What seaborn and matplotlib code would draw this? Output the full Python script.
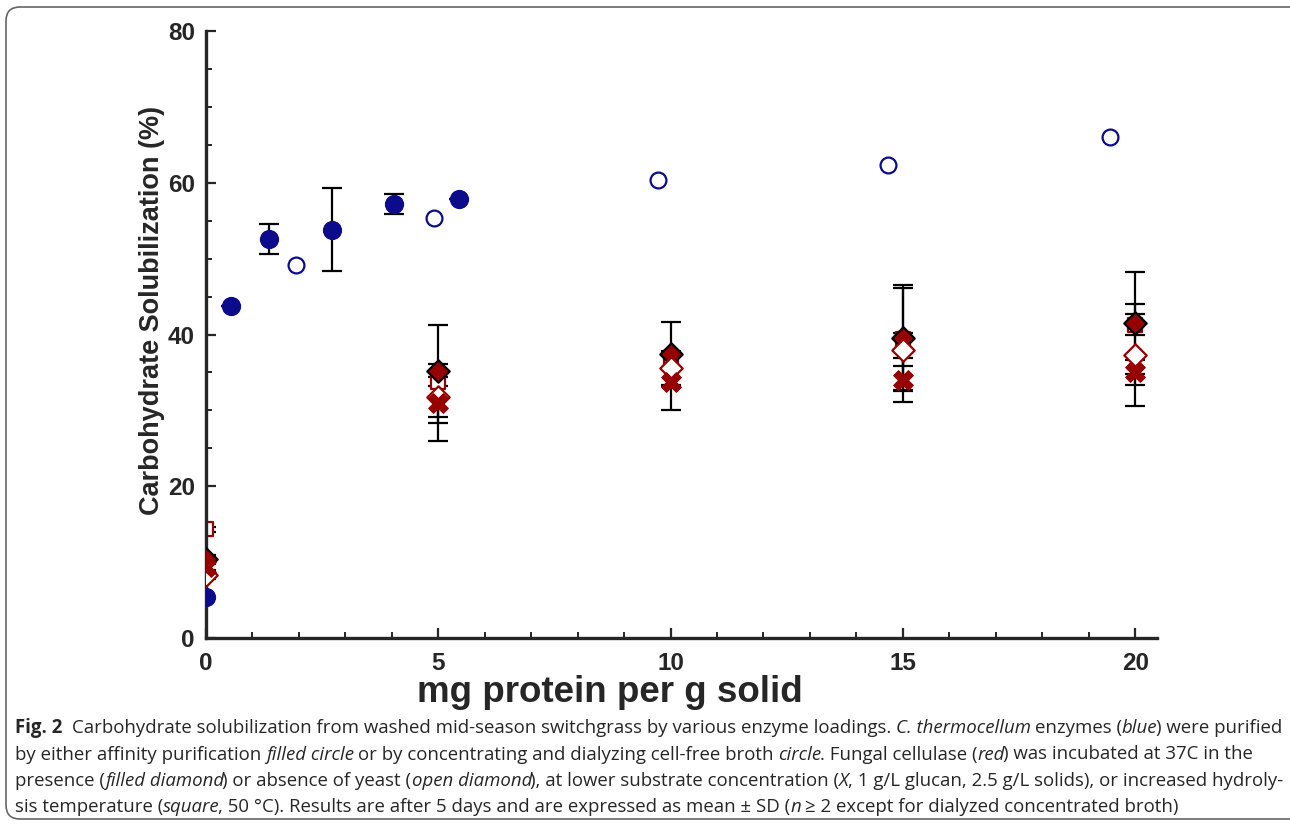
import matplotlib
matplotlib.use("Agg")
import matplotlib.pyplot as plt
import matplotlib.font_manager as fm
from matplotlib.patches import FancyBboxPatch
from matplotlib.ticker import MultipleLocator
import seaborn as sns

# ---------------- data ----------------
# C. thermocellum enzymes, affinity purified (filled circle)
aff_x = [0.0, 0.54, 1.36, 2.71, 4.04, 5.44]
aff_y = [5.4, 43.7, 52.6, 53.8, 57.2, 57.9]
aff_sd = [0.0, 0.0, 2.0, 5.45, 1.3, 0.0]
# C. thermocellum, concentrated dialyzed broth (open circle)
dia_x = [1.94, 4.91, 9.72, 14.68, 19.46]
dia_y = [49.1, 55.4, 60.4, 62.4, 66.0]
# Fungal cellulase loadings
loads = [0, 5, 10, 15, 20]
yeast_y = [10.4, 35.2, 37.4, 39.5, 41.5]      # filled diamond
yeast_sd = [0.6, 6.1, 4.2, 7.0, 6.7]
noyeast_y = [8.3, 31.8, 35.6, 38.0, 37.3]     # open diamond
noyeast_sd = [0.5, 3.4, 2.2, 2.2, 6.7]
lowsub_y = [9.4, 31.0, 33.8, 34.0, 35.0]      # X
lowsub_sd = [0.5, 5.1, 3.7, 2.9, 1.6]
hightemp_y = [14.3, 33.8, 36.5, 39.4, 41.3]   # open square
hightemp_sd = [0.3, 0.6, 0.8, 6.7, 1.4]

x_ticks = [0, 5, 10, 15, 20]
y_ticks = [0, 20, 40, 60, 80]
x_label = "mg protein per g solid"
y_label = "Carbohydrate Solubilization (%)"

BLUE = "#0b0b8c"
RED = "#960000"

# ---------------- style ----------------
sns.set_style("ticks")
names = {f.name for f in fm.fontManager.ttflist}
main_font = "Liberation Sans" if "Liberation Sans" in names else "DejaVu Sans"
cap_font = "Liberation Sans Narrow" if "Liberation Sans Narrow" in names else (
    "Open Sans" if "Open Sans" in names else "DejaVu Sans")
plt.rcParams["font.family"] = [main_font, "DejaVu Sans"]

W, H = 1290, 827
fig = plt.figure(figsize=(W / 100, H / 100), dpi=100)
ax = fig.add_axes([206 / W, 1 - 638 / H, (1157 - 206) / W, (638 - 31) / H])

# error bars
eb = dict(fmt="none", ecolor="black", elinewidth=1.6, capsize=7,
          capthick=1.6, zorder=1.5)
ax.errorbar(aff_x, aff_y, yerr=aff_sd, **eb)
ax.errorbar(loads, yeast_y, yerr=yeast_sd, **eb)
ax.errorbar(loads, noyeast_y, yerr=noyeast_sd, **eb)
ax.errorbar(loads, lowsub_y, yerr=lowsub_sd, **eb)
ax.errorbar(loads, hightemp_y, yerr=hightemp_sd, **eb)

# markers
sns.scatterplot(x=aff_x, y=aff_y, marker="o", s=165, color=BLUE,
                edgecolor=BLUE, linewidth=1, ax=ax, zorder=3)
sns.scatterplot(x=dia_x, y=dia_y, marker="o", s=130, color="white",
                edgecolor=BLUE, linewidth=1.6, ax=ax, zorder=3)
sns.scatterplot(x=loads, y=hightemp_y, marker="s", s=90, color="white",
                edgecolor=RED, linewidth=1.6, ax=ax, zorder=2)
sns.scatterplot(x=loads, y=yeast_y, marker="D", s=130, color=RED,
                edgecolor="black", linewidth=1.6, ax=ax, zorder=3)
sns.scatterplot(x=loads, y=noyeast_y, marker="D", s=130, color="white",
                edgecolor=RED, linewidth=1.6, ax=ax, zorder=4)
sns.scatterplot(x=loads, y=lowsub_y, marker="X", s=200, color=RED,
                edgecolor=RED, linewidth=0.8, ax=ax, zorder=5)

# axes
ax.set_xlim(0, 20.47)
ax.set_ylim(0, 80)
ax.set_xticks(x_ticks)
ax.set_yticks(y_ticks)
ax.xaxis.set_minor_locator(MultipleLocator(1))
ax.yaxis.set_minor_locator(MultipleLocator(5))
sns.despine(ax=ax)
for sp in ("left", "bottom"):
    ax.spines[sp].set_linewidth(2.4)
ax.tick_params(which="major", direction="in", length=7, width=1.6,
               labelsize=17.5, pad=8)
ax.tick_params(which="minor", direction="in", length=4, width=1.4)
ax.tick_params(axis="x", which="major", pad=10)
for lab in ax.get_xticklabels() + ax.get_yticklabels():
    lab.set_fontweight("bold")
ax.set_xlabel("")
ax.set_ylabel("")

fig.text(610 / W, 1 - 692 / H, x_label, ha="center", va="center",
         fontsize=26.5, fontweight="bold")
fig.text(152 / W, 1 - 310 / H, y_label, ha="center", va="center",
         rotation=90, fontsize=19.5, fontweight="bold")

# rounded frame
frame = FancyBboxPatch((6, 8), 1300, H - 8 - 7,
                       boxstyle="round,pad=0,rounding_size=14",
                       transform=None, fill=False, edgecolor="#666666",
                       linewidth=1.2, figure=fig)
fig.patches.append(frame)

# caption (rich text laid out segment by segment)
cap_lines = [
    [("Fig. 2", "b"), ("  Carbohydrate solubilization from washed mid-season switchgrass by various enzyme loadings. ", "n"),
     ("C. thermocellum", "i"), (" enzymes (", "n"), ("blue", "i"), (") were purified", "n")],
    [("by either affinity purification ", "n"), ("filled circle", "i"),
     (" or by concentrating and dialyzing cell-free broth ", "n"), ("circle", "i"),
     (". Fungal cellulase (", "n"), ("red", "i"), (") was incubated at 37C in the", "n")],
    [("presence (", "n"), ("filled diamond", "i"), (") or absence of yeast (", "n"),
     ("open diamond", "i"), ("), at lower substrate concentration (", "n"), ("X", "i"),
     (", 1 g/L glucan, 2.5 g/L solids), or increased hydroly-", "n")],
    [("sis temperature (", "n"), ("square", "i"),
     (", 50 °C). Results are after 5 days and are expressed as mean ± SD (", "n"),
     ("n", "i"), (" ≥ 2 except for dialyzed concentrated broth)", "n")],
]
cap_size = 13.4
styles = {
    "n": dict(family=[cap_font, "DejaVu Sans"], fontsize=cap_size),
    "i": dict(family=[cap_font, "DejaVu Sans"], fontsize=cap_size, style="italic"),
    "b": dict(family=[cap_font, "DejaVu Sans"], fontsize=cap_size, weight="bold"),
}
renderer = fig.canvas.get_renderer()


def text_width(s, st):
    t = fig.text(0, 0, s, transform=None, **styles[st])
    w = t.get_window_extent(renderer).width
    t.remove()
    return w


space_w = {k: text_width("x x", k) - text_width("xx", k) for k in styles}
baselines = [733, 759.5, 786, 812.5]
for line, yb in zip(cap_lines, baselines):
    xpos = 15.0
    for s, st in line:
        lead = len(s) - len(s.lstrip(" "))
        trail = len(s) - len(s.rstrip(" "))
        core = s.strip(" ")
        xpos += lead * space_w[st]
        if core:
            t = fig.text(xpos, H - yb, core, transform=None, ha="left",
                         va="baseline", **styles[st])
            xpos += t.get_window_extent(renderer).width
            if st == "i":
                xpos -= 1.5
        xpos += trail * space_w[st]

fig.savefig("out.png", dpi=100)
